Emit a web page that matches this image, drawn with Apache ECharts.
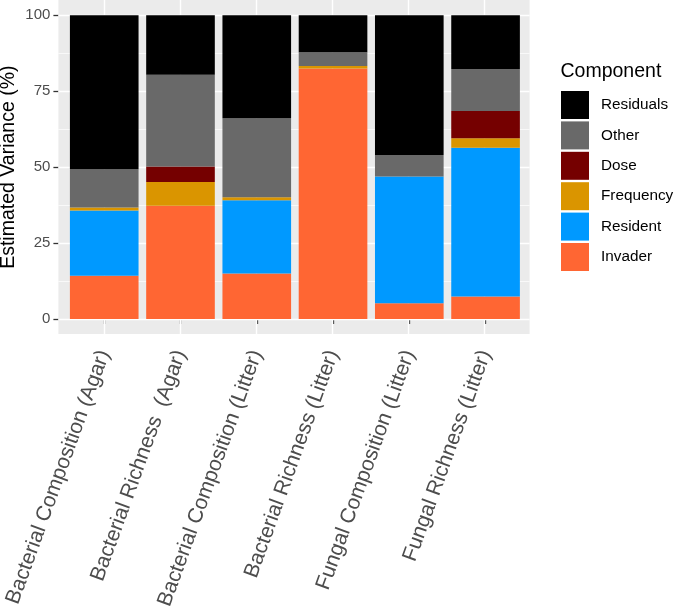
<!DOCTYPE html>
<html>
<head>
<meta charset="utf-8">
<script src="https://cdn.jsdelivr.net/npm/echarts@6/dist/echarts.min.js"></script>
<style>html,body{margin:0;padding:0;background:#fff}#c{width:675px;height:606px}</style>
</head>
<body>
<div id="c"></div>
<script>
const categories = ['Bacterial Composition (Agar)', 'Bacterial Richness  (Agar)', 'Bacterial Composition (Litter)', 'Bacterial Richness (Litter)', 'Fungal Composition (Litter)', 'Fungal Richness (Litter)'];
const invader   = [14.2, 37.3, 15.0, 82.5, 5.2, 7.4];
const resident  = [21.5, 0, 24.1, 0, 41.7, 49.0];
const frequency = [1.0, 7.8, 1.0, 0.8, 0, 3.1];
const dose      = [0, 5.1, 0, 0, 0, 9.0];
const other     = [12.6, 30.2, 26.0, 4.5, 7.1, 13.8];
const residuals = [50.7, 19.6, 33.9, 12.2, 46.0, 17.7];
const yTicks = [0, 25, 50, 75, 100];
const yMinor = [12.5, 37.5, 62.5, 87.5];
const xPositions = [1, 2, 3, 4, 5, 6];

const FONT = 'Liberation Sans, Arial, Helvetica, sans-serif';
const seriesDefs = [
  ['Invader', invader, '#FF6633'],
  ['Resident', resident, '#0099FF'],
  ['Frequency', frequency, '#DA9500'],
  ['Dose', dose, '#750000'],
  ['Other', other, '#696969'],
  ['Residuals', residuals, '#000000']
];

const chart = echarts.init(document.getElementById('c'), null, {renderer: 'canvas'});
const barSeries = seriesDefs.map(([name, vals, color]) => ({
  name, type: 'bar', stack: 'total', xAxisIndex: 0, yAxisIndex: 0,
  data: vals, itemStyle: {color}, barCategoryGap: '10%', z: 3,
  emphasis: {disabled: true}
}));

const option = {
  animation: false,
  textStyle: {fontFamily: FONT},
  title: {
    text: 'Component', left: 560.5, top: 62, padding: 0,
    textStyle: {fontSize: 19.5, fontWeight: 'normal', color: '#000', fontFamily: FONT}
  },
  legend: {
    orient: 'vertical', left: 561, top: 91, padding: 0,
    itemWidth: 28, itemHeight: 28, itemGap: 2.4, icon: 'rect',
    data: ['Residuals', 'Other', 'Dose', 'Frequency', 'Resident', 'Invader'],
    textStyle: {fontSize: 15.3, color: '#000', fontFamily: FONT, padding: [0, 0, 0, 7]},
    selectedMode: false
  },
  grid: [
    {left: 66.1, top: 15.3, width: 457.6, height: 303.7, containLabel: false, outerBoundsMode: 'none'},
    {left: 58.4, top: 0, width: 471.2, height: 334, show: true, backgroundColor: '#EBEBEB', borderWidth: 0, containLabel: false, outerBoundsMode: 'none'}
  ],
  xAxis: [
    {
      type: 'category', gridIndex: 0, data: categories, offset: 15,
      axisLine: {show: false},
      axisTick: {show: true, alignWithLabel: true, length: 5, lineStyle: {color: '#333333', width: 1.3}},
      axisLabel: {rotate: 70, fontSize: 21, color: '#4D4D4D', margin: 17, fontFamily: FONT, interval: 0},
      splitLine: {show: false}
    },
    {type: 'value', gridIndex: 1, min: 0.4, max: 6.6, show: false}
  ],
  yAxis: [
    {
      type: 'value', gridIndex: 0, min: 0, max: 100, interval: 25, offset: 7.7,
      axisLine: {show: false},
      axisTick: {show: true, length: 5, lineStyle: {color: '#333333', width: 1.3}},
      axisLabel: {fontSize: 15, color: '#4D4D4D', margin: 8, fontFamily: FONT},
      splitLine: {show: false},
      name: 'Estimated Variance (%)', nameLocation: 'middle', nameGap: 40, nameMoveOverlap: false,
      nameTextStyle: {fontSize: 19.5, color: '#000', fontFamily: FONT}
    },
    {type: 'value', gridIndex: 1, min: -5, max: 105, show: false}
  ],
  series: [
    {
      type: 'scatter', xAxisIndex: 1, yAxisIndex: 1, data: [], z: 1, silent: true,
      markLine: {
        silent: true, symbol: 'none', label: {show: false}, animation: false, z: 1,
        lineStyle: {color: '#FFFFFF', type: 'solid', width: 0.7},
        emphasis: {disabled: true},
        data: yMinor.map(v => ({yAxis: v}))
      }
    },
    {
      type: 'scatter', xAxisIndex: 1, yAxisIndex: 1, data: [], z: 1, silent: true,
      markLine: {
        silent: true, symbol: 'none', label: {show: false}, animation: false, z: 1,
        lineStyle: {color: '#FFFFFF', type: 'solid', width: 1.4},
        emphasis: {disabled: true},
        data: yTicks.map(v => ({yAxis: v})).concat(xPositions.map(v => ({xAxis: v})))
      }
    }
  ].concat(barSeries)
};
chart.setOption(option);
</script>
</body>
</html>
